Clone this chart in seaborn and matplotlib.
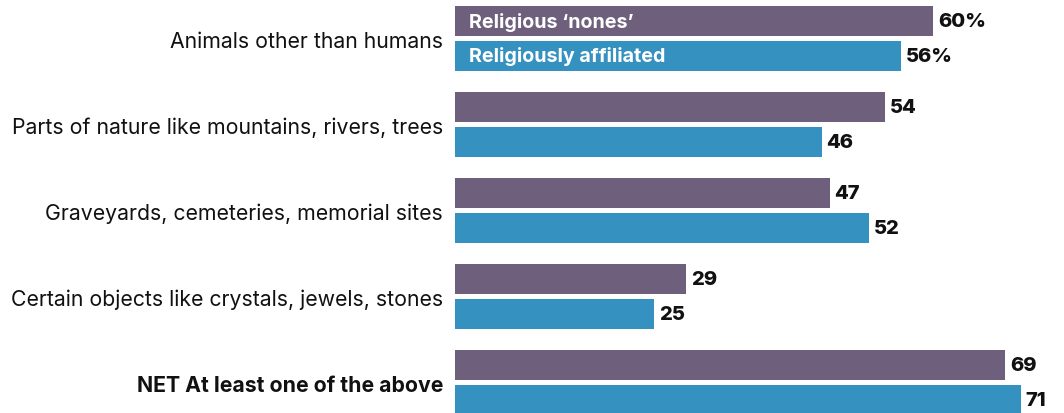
import matplotlib
matplotlib.use("Agg")
import matplotlib.pyplot as plt
import seaborn as sns
import pandas as pd

categories = [
    "Animals other than humans",
    "Parts of nature like mountains, rivers, trees",
    "Graveyards, cemeteries, memorial sites",
    "Certain objects like crystals, jewels, stones",
    "NET At least one of the above",
]
groups = ["Religious \u2018nones\u2019", "Religiously affiliated"]
nones = [60, 54, 47, 29, 69]
affiliated = [56, 46, 52, 25, 71]
colors = ["#6e607c", "#3491c0"]

df = pd.DataFrame({
    "category": categories * 2,
    "group": [groups[0]] * len(categories) + [groups[1]] * len(categories),
    "value": nones + affiliated,
})

sns.set_theme(style="white")
plt.rcParams["font.family"] = ["Inter", "DejaVu Sans"]

W, H = 1064, 414
fig = plt.figure(figsize=(W / 100, H / 100), dpi=100)
left = 455
ax = fig.add_axes([left / W, 0, (W - left) / W, 1])

sns.barplot(data=df, y="category", x="value", hue="group", order=categories,
            hue_order=groups, palette=colors, orient="h", width=0.8, gap=0.12,
            saturation=1, linewidth=0, legend=False, ax=ax)

px_per_unit = 7.97
ax.set_xlim(0, (W - left) / px_per_unit)
pitch = 86
ax.set_ylim(4 + (H - 383.5) / pitch, -39.5 / pitch)

for s in ax.spines.values():
    s.set_visible(False)
ax.set_xticks([])
ax.set_xlabel("")
ax.set_ylabel("")
ax.tick_params(axis="y", length=0, pad=8.5, labelsize=15.3, labelcolor="#111111")
for i, lab in enumerate(ax.get_yticklabels()):
    if i == len(categories) - 1:
        lab.set_fontweight("bold")

for k, (cont, vals) in enumerate(zip(ax.containers, [nones, affiliated])):
    labels = [f"{v}%" if i == 0 else f"{v}" for i, v in enumerate(vals)]
    ax.bar_label(cont, labels=labels, padding=3.5, fontsize=14.5,
                 fontweight="heavy", color="#111111")
    bar = cont.patches[0]
    ax.text(14 / px_per_unit, bar.get_y() + bar.get_height() / 2, groups[k],
            color="white", fontsize=14.2, fontweight="bold",
            va="center", ha="left")

fig.savefig("out.png", dpi=100)
